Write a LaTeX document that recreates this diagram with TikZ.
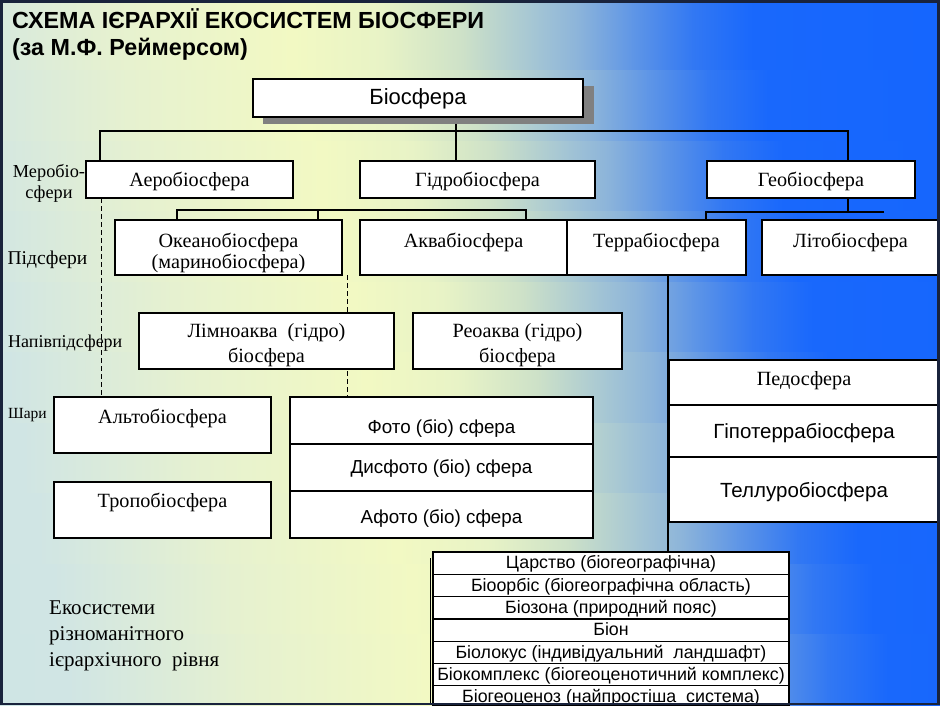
\documentclass[tikz,border=0pt]{standalone}
\usepackage{fontspec}
\setmainfont{Liberation Serif}
\newfontfamily\sansf{Liberation Sans}
\usetikzlibrary{calc}
\pgfdeclarelayer{bglayer}
\pgfdeclarelayer{linelayer}
\pgfsetlayers{bglayer,linelayer,main}
\definecolor{c0}{RGB}{205,228,228}
\definecolor{c1}{RGB}{208,229,228}
\definecolor{c2}{RGB}{230,241,208}
\definecolor{c3}{RGB}{242,249,195}
\definecolor{c4}{RGB}{232,243,198}
\definecolor{c5}{RGB}{205,225,200}
\definecolor{c6}{RGB}{165,198,212}
\definecolor{c7}{RGB}{140,180,218}
\definecolor{c8}{RGB}{95,150,230}
\definecolor{c9}{RGB}{50,120,243}
\definecolor{c10}{RGB}{25,104,252}
\definecolor{c11}{RGB}{18,100,255}
\definecolor{framec}{RGB}{25,35,60}
\definecolor{shadowc}{RGB}{128,128,128}
\tikzset{
  box/.style={draw=black, line width=1.2pt, fill=white, inner sep=0pt, outer sep=0pt},
  conn/.style={draw=black, line width=1.9pt},
  dline/.style={draw=black, line width=1pt, dash pattern=on 5pt off 3pt},
  sertext/.style={font=\fontsize{20.2}{23}\selectfont, inner sep=0pt, anchor=base},
  lbltext/.style={font=\fontsize{17}{21}\selectfont, inner sep=0pt},
  sanstext/.style={font=\sansf\fontsize{18.8}{22}\selectfont, inner sep=0pt, anchor=base},
  bigsans/.style={font=\sansf\fontsize{20.5}{23}\selectfont, inner sep=0pt, anchor=base},
  biosans/.style={font=\sansf\fontsize{22}{25}\selectfont, inner sep=0pt, anchor=base},
  bstext/.style={font=\sansf\fontsize{17.8}{20}\selectfont, inner sep=0pt, anchor=base},
  titletext/.style={font=\sansf\bfseries\fontsize{23.3}{27}\selectfont, inner sep=0pt, anchor=base west}
}
\newcommand\drawbox[5]{\node[box,anchor=north west,minimum width={(#4)-(#2)},minimum height={(#5)-(#3)}] (#1) at (#2,#3) {};}
\begin{document}
\begin{tikzpicture}[x=1pt,y=-1pt]
\useasboundingbox (0,0) rectangle (940,705);
% background
\begin{pgfonlayer}{bglayer}
\begin{scope}
\clip (0,0) rectangle (940,705);
\foreach \k in {0,...,9}{
  \pgfmathsetmacro\s{-75+15*\k+7.5}
  \pgfmathsetmacro\ya{70.5*\k}
  \pgfmathsetmacro\yb{70.5*\k+71}
  \foreach \xa/\xb/\ca/\cb in {-200/0/c0/c1, 0/180/c1/c2, 180/360/c2/c3, 360/450/c3/c4, 450/530/c4/c5, 530/600/c5/c6, 600/645/c6/c7, 645/700/c7/c8, 700/760/c8/c9, 760/820/c9/c10, 820/1140/c10/c11}
    \shade[left color=\ca, right color=\cb] ({\xa+\s},\ya) rectangle ({\xb+\s+0.7},\yb);
}
\end{scope}
\end{pgfonlayer}

% title
\node[titletext] (title1) at (12,28) {СХЕМА ІЄРАРХІЇ ЕКОСИСТЕМ БІОСФЕРИ};
\node[titletext] (title2) at (12,55) {(за М.Ф. Реймерсом)};

% top box with shadow
\fill[shadowc] (263,86) rectangle (594,124);
\drawbox{bio}{253}{79}{583}{117}
\node[biosans] (tbio) at (418,104.5) {Біосфера};

% level 1
\drawbox{aero}{86}{161}{293}{198}
\drawbox{hydro}{360}{161}{595}{198}
\drawbox{geo}{707}{161}{915}{198}
\node[sertext] (taero) at (189.5,186) {Аеробіосфера};
\node[sertext] (thydro) at (477.5,186) {Гідробіосфера};
\node[sertext] (tgeo) at (811,186) {Геобіосфера};

% level 2
\drawbox{ocean}{115}{220}{342}{275}
\drawbox{aqua}{360}{220}{567}{275}
\drawbox{terra}{567}{220}{746}{275}
\drawbox{lito}{762}{220}{939}{275}
\node[sertext] (tocean1) at (228.5,247) {Океанобіосфера};
\node[sertext] (tocean2) at (228.5,268) {(маринобіосфера)};
\node[sertext] (taqua) at (463.5,247) {Аквабіосфера};
\node[sertext] (tterra) at (656.5,247) {Террабіосфера};
\node[sertext] (tlito) at (850.5,247) {Літобіосфера};

% level 3
\drawbox{limno}{139}{313}{394}{369}
\drawbox{reo}{413}{313}{622}{369}
\node[sertext] (tlimno1) at (266.5,337) {Лімноаква\ \ (гідро)};
\node[sertext] (tlimno2) at (266.5,362) {біосфера};
\node[sertext] (treo1) at (517.5,337) {Реоаква (гідро)};
\node[sertext] (treo2) at (517.5,362) {біосфера};

% layers
\drawbox{alto}{54}{397}{271}{453}
\drawbox{tropo}{54}{482}{271}{538}
\node[sertext] (talto) at (162.5,423) {Альтобіосфера};
\node[sertext] (ttropo) at (162.5,507) {Тропобіосфера};

\drawbox{foto}{290}{397}{593}{444}
\drawbox{disfoto}{290}{444}{593}{491}
\drawbox{afoto}{290}{491}{593}{538}
\node[sanstext] (tfoto) at (441.5,433) {Фото (біо) сфера};
\node[sanstext] (tdisfoto) at (441.5,473) {Дисфото (біо) сфера};
\node[sanstext] (tafoto) at (441.5,523) {Афото (біо) сфера};

\drawbox{ped}{669}{360}{939}{405}
\drawbox{hypo}{669}{405}{939}{457}
\drawbox{tell}{669}{457}{939}{522}
\node[sertext] (tped) at (804,385) {Педосфера};
\node[bigsans] (thypo) at (804,438) {Гіпотеррабіосфера};
\node[bigsans] (ttell) at (804,497) {Теллуробіосфера};

% bottom stack
\draw[line width=0.9pt] (430,558) -- (430,705);
\foreach \i/\t in {0/Царство (біогеографічна), 1/Біоорбіс (біогеографічна область), 2/Біозона (природний пояс), 3/Біон, 4/Біолокус (індивідуальний\ \ ландшафт), 5/Біокомплекс\ (біогеоценотичний комплекс), 6/Біогеоценоз (найпростіша\ \ система)}{
  \pgfmathsetmacro\ya{552+22.3*\i}
  \pgfmathsetmacro\yb{min(552+22.3*(\i+1),705)}
  \drawbox{bs\i}{433}{\ya}{789}{\yb}
  \node[bstext] (tbs\i) at (611,{\ya+16.8}) {\t};
}

% connectors
\begin{pgfonlayer}{linelayer}
\coordinate (jl) at (100,131);
\coordinate (jm) at (456,131);
\coordinate (jr) at (848,131);
\draw[conn] (jl |- aero.north) -- (jl) -- (jr) -- (jr |- geo.north);
\draw[conn] (jm |- bio.south) -- (jm |- hydro.north);
\coordinate (h1) at (177,210);
\coordinate (h2) at (318,210);
\coordinate (h3) at (526,210);
\draw[conn] (h1 |- ocean.north) -- (h1) -- (h3) -- (h3 |- aqua.north);
\draw[conn] (h2) -- (h2 |- ocean.north);
\coordinate (g1) at (706,212);
\coordinate (g2) at (884,212);
\draw[conn] (g1 |- terra.north) -- (g1) -- (g2);
\draw[conn] (jr |- geo.south) -- (jr |- g1);
\coordinate (tv) at (668,300);
\draw[conn] (tv |- terra.south) -- (tv |- bs0.north);
\coordinate (d1) at (101,300);
\coordinate (d2) at (347,300);
\draw[dline] (d1 |- aero.south) -- (d1 |- alto.north);
\draw[dline] (d2 |- ocean.south) -- (d2 |- foto.north);
\end{pgfonlayer}

% side labels
\node[lbltext, align=center, font=\fontsize{18.3}{21}\selectfont] (lmero) at (49,183) {Меробіо-\\сфери};
\node[lbltext, anchor=base, font=\fontsize{19.5}{22}\selectfont] (lpid) at (47.5,264) {Підсфери};
\node[lbltext, anchor=base west, font=\fontsize{18}{20}\selectfont] (lnapiv) at (8,347) {Напівпідсфери};
\node[lbltext, anchor=base west, font=\fontsize{15.5}{18}\selectfont] (lshary) at (8,418) {Шари};
\node[lbltext, anchor=base west, font=\fontsize{21}{26}\selectfont, align=left] (leco) at (49,666) {Екосистеми\\різноманітного\\ієрархічного\ \ рівня};

% frame
\draw[framec, line width=2.5pt] (1.25,1.25) rectangle (938.5,703.75);
\end{tikzpicture}
\end{document}
